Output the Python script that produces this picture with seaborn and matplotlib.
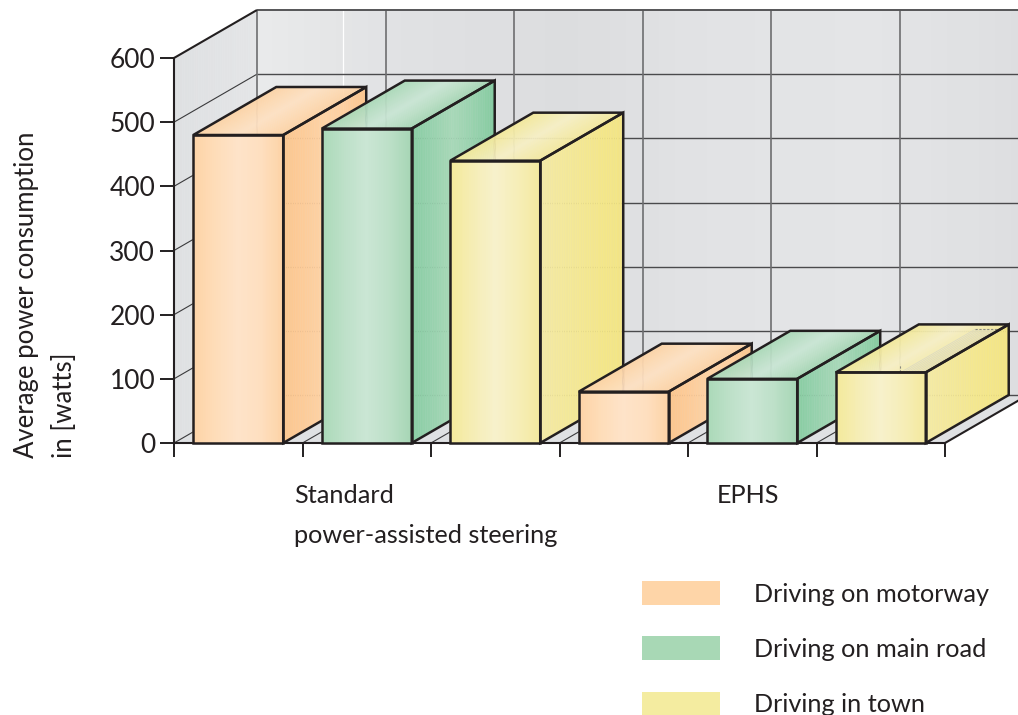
import numpy as np
import pandas as pd
import matplotlib
matplotlib.use("Agg")
import matplotlib.pyplot as plt
import seaborn as sns
from matplotlib.patches import Polygon
from matplotlib.collections import PolyCollection
from matplotlib.colors import to_rgb

# ---- data ----
groups = ["Standard\npower-assisted steering", "EPHS"]
series = ["Driving on motorway", "Driving on main road", "Driving in town"]
standard_values = [480, 490, 440]
ephs_values = [80, 100, 110]
y_ticks = [0, 100, 200, 300, 400, 500, 600]
y_label = "Average power consumption\nin [watts]"

df = pd.DataFrame({
    "group": [groups[0]] * 3 + [groups[1]] * 3,
    "series": series * 2,
    "value": standard_values + ephs_values,
})

# ---- style ----
W, H = 1018, 715
INK = "#231f20"
FONT = "Lato"
TEXT_SIZE = 18.2
sns.set_theme(style="white")
plt.rcParams["font.family"] = [FONT, "DejaVu Sans"]
palette = dict(zip(series, ["#FED5A8", "#A8D8B5", "#F4ECA0"]))

FRONT = [
    ["#FDD3A6", "#FEDDB9", "#FEE3C9", "#FEDFC0", "#FDD3A6"],
    ["#AAD9B8", "#BDE0C8", "#CBE6D5", "#BDE0C8", "#A6D6B5"],
    ["#F4E99A", "#F5EDB5", "#F7F1CC", "#F6EEB8", "#F4E99F"],
]
SIDE = [
    ["#FCC68E", "#FDCC99", "#FED3A6", "#FECFA0", "#FCC68E"],
    ["#88CDA2", "#98D2AE", "#A8D8B8", "#98D2AE", "#85CBA0"],
    ["#F4EAA6", "#F4E99C", "#F4E893", "#F4E78A", "#F3E585"],
]
TOP = [
    ["#FDD3A6", "#FEDBB5", "#FEE1C4", "#FEDBB5", "#FDD3A6"],
    ["#AAD9B8", "#BBDFC6", "#CAE6D5", "#BBDFC6", "#A6D6B5"],
    ["#F4E99A", "#F5EDB0", "#F7F0C6", "#F6EDB2", "#F4E99F"],
]
WALL_BACK = ["#E9EAEB", "#E0E1E3", "#DCDDDF", "#E2E3E5", "#E4E5E7", "#DDDEE0"]
WALL_LEFT = ["#DEE0E2", "#E4E5E7"]
FLOOR = "#DFE1E3"

fig = plt.figure(figsize=(W / 100, H / 100), dpi=100)
ax = fig.add_axes([174 / W, (H - 443) / H, 771 / W, 385 / H])

sns.barplot(data=df, x="group", y="value", hue="series", palette=palette,
            width=1, gap=0.3, saturation=1, linewidth=0, edgecolor="none", ax=ax)

ax.set_xlim(-0.5, 1.5)
ax.set_ylim(0, 600)
ax.patch.set_alpha(0)

# depth of the pseudo-3D box, in data units
DX = 83 / 771 * 2
DY = 48 / 385 * 600
X0, X1 = -0.5, 1.5
Y1 = 600
slots = np.linspace(X0, X1, 7)


def shade(p0, u, v, stops, z):
    """Paint a parallelogram p0, p0+u, p0+u+v, p0+v with a gradient along u."""
    n = 48
    s = np.linspace(0, 1, n + 1)
    p0, u, v = np.array(p0, float), np.array(u, float), np.array(v, float)
    verts = [[p0 + u * a, p0 + u * b, p0 + u * b + v, p0 + u * a + v]
             for a, b in zip(s[:-1], s[1:])]
    rgb = np.array([to_rgb(c) for c in stops])
    mid = (s[:-1] + s[1:]) / 2
    pos = np.linspace(0, 1, len(stops))
    C = np.stack([np.interp(mid, pos, rgb[:, k]) for k in range(3)], axis=-1)
    pc = PolyCollection(verts, facecolors=C, edgecolors=C, linewidths=0.3,
                        zorder=z, clip_on=False)
    ax.add_collection(pc, autolim=False)


def outline(pts, z, lw=1.8):
    ax.add_patch(Polygon(pts, closed=True, fill=False, edgecolor=INK, linewidth=lw,
                         joinstyle="miter", zorder=z, clip_on=False))


# bars drawn by seaborn, collected before any helper patches are added
bars = sorted([b for c in ax.containers for b in c], key=lambda p: p.get_x())

# walls and floor
shade((X0 + DX, DY), (X1 - X0, 0), (0, Y1), WALL_BACK, 0.2)
shade((X0, 0), (DX, DY), (0, Y1), WALL_LEFT, 0.2)
ax.add_patch(Polygon([(X0, 0), (X0 + DX, DY), (X1 + DX, DY), (X1, 0)], closed=True,
                     facecolor=FLOOR, edgecolor="none", zorder=0.3, clip_on=False))

line = dict(clip_on=False, solid_capstyle="butt")
for yv in y_ticks:
    if yv < Y1:
        ax.plot([X0 + DX, X1 + DX], [yv + DY, yv + DY], color="#4a4a4c", lw=1.0, zorder=0.5, **line)
        ax.plot([X0, X0 + DX], [yv, yv + DY], color="#3a3a3c", lw=0.8, zorder=0.5, **line)
for xv in slots[:-1]:
    ax.plot([xv + DX, xv + DX], [DY, Y1 + DY], color="#6e6e70", lw=1.2, zorder=0.5, **line)
    if xv > X0:
        ax.plot([xv, xv + DX], [0, DY], color="#3a3a3c", lw=0.8, zorder=0.5, **line)
ax.plot([slots[0] + DX + 0.2225] * 2, [Y1 + DY - 170, Y1 + DY], color="white", lw=0.9, zorder=0.45, **line)
ax.plot([X0 + DX, X1 + DX], [Y1 + DY, Y1 + DY], color="#555557", lw=1.4, zorder=0.5, **line)
ax.plot([X0, X0 + DX], [Y1, Y1 + DY], color=INK, lw=1.5, zorder=0.6, **line)
ax.plot([X1, X1 + DX], [0, DY], color=INK, lw=1.5, zorder=0.6, **line)

# depth of each bar is derived from its seaborn rectangle
for i, b in enumerate(bars):
    z = 2 + i
    k = i % 3
    x, w, h = b.get_x(), b.get_width(), b.get_height()
    b.set_zorder(z)
    shade((x, h), (w, 0), (DX, DY), TOP[k], z + 0.1)
    shade((x + w, 0), (DX, DY), (0, h), SIDE[k], z + 0.1)
    shade((x, 0), (w, 0), (0, h), FRONT[k], z + 0.2)
    outline([(x, h), (x + DX, h + DY), (x + w + DX, h + DY), (x + w, h)], z + 0.3)
    outline([(x + w, 0), (x + w + DX, DY), (x + w + DX, h + DY), (x + w, h)], z + 0.3)
    outline([(x, 0), (x + w, 0), (x + w, h), (x, h)], z + 0.4)

# faint print hatching on the top of the last bar
last = bars[-1]
lx, lw_, lh = last.get_x(), last.get_width(), last.get_height()
for f in np.linspace(0.72, 0.98, 9):
    ax.plot([lx + lw_ * f, lx + lw_ * f + DX * 0.9], [lh, lh + DY * 0.9], color="#d9d8c4",
            lw=0.5, zorder=7.15, **line)
ax.plot([lx + lw_ * 0.72 + DX * 0.9, lx + lw_ * 1.0 + DX * 0.9], [lh + DY * 0.9] * 2,
        color="#8a8a80", lw=0.8, ls=(0, (2, 1.5)), zorder=7.2, clip_on=False)
ax.plot([lx + lw_ * 0.71] * 2, [lh, lh + 12], color="#8a8a80", lw=0.8, ls=(0, (2, 1.5)),
        zorder=7.2, clip_on=False)

# axes
for s in ("top", "right"):
    ax.spines[s].set_visible(False)
for s in ("left", "bottom"):
    ax.spines[s].set_color(INK)
    ax.spines[s].set_linewidth(1.5)
    ax.spines[s].set_zorder(1)
ax.set_xticks(slots)
ax.set_xticklabels([])
ax.set_yticks(y_ticks)
ax.tick_params(axis="both", which="major", left=True, bottom=True, length=10, width=1.4, color=INK,
               labelcolor=INK, labelsize=19, pad=3.5)
ax.set_xlabel("")
ax.set_ylabel(y_label, fontsize=18.5, color=INK, rotation=90, ha="left", ma="left",
              rotation_mode="anchor", va="bottom", linespacing=1.65)
ax.yaxis.set_label_coords((77 - 174) / 771, -15 / 385)

# group labels
ax.text(294 / W, 1 - 484 / H, groups[0], transform=fig.transFigure, ha="left", va="top",
        fontsize=TEXT_SIZE, color=INK, linespacing=1.87)
ax.text(717 / W, 1 - 484 / H, groups[1], transform=fig.transFigure, ha="left", va="top",
        fontsize=TEXT_SIZE, color=INK)

# legend
sns.move_legend(ax, "upper left", bbox_to_anchor=(642 / W, 1 - 581 / H),
                bbox_transform=fig.transFigure, title=None, frameon=False,
                fontsize=TEXT_SIZE, handlelength=3.08, handleheight=1.07, handletextpad=1.34,
                labelspacing=1.22, borderpad=0, borderaxespad=0)
for t in ax.get_legend().get_texts():
    t.set_color(INK)

fig.savefig("out.png", dpi=100)
